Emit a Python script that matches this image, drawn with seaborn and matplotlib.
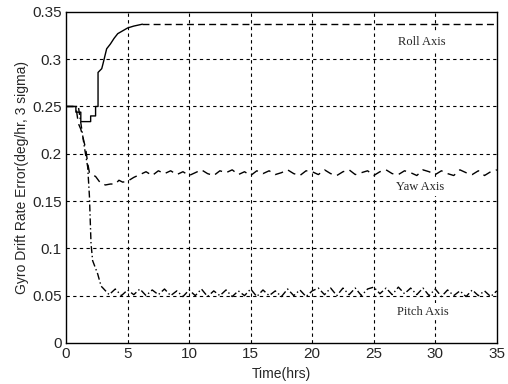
import numpy as np
import pandas as pd
import matplotlib
matplotlib.use("Agg")
import matplotlib.pyplot as plt
import seaborn as sns

# ------------------------- DATI -------------------------

roll_t_early = [0.0, 0.8, 0.8, 1.2, 1.2, 2.0, 2.0, 2.4, 2.4, 2.6, 2.6, 2.9, 3.0, 3.3, 3.6, 3.9, 4.2, 4.6, 5.0, 5.5, 6.2]
roll_early = [0.25, 0.25, 0.244, 0.244, 0.234, 0.234, 0.24, 0.24, 0.25, 0.25, 0.286, 0.29, 0.295, 0.311, 0.316, 0.322, 0.327, 0.330, 0.333, 0.335, 0.337]
roll_t_late = [6.2, 10.0, 15.0, 20.0, 25.0, 30.0, 35.0]
roll_late = [0.337, 0.337, 0.337, 0.337, 0.337, 0.337, 0.337]

yaw_t = [0.0, 0.8, 1.0, 1.2, 1.4, 1.6, 1.76, 1.9, 2.1, 2.4, 2.8, 3.2, 3.6, 4.0, 4.3, 4.6, 5.0, 5.5,
         6.0, 6.5, 7.0, 7.5, 8.0, 8.5, 9.0, 9.5, 10.0, 10.5, 11.0, 11.5, 12.0, 12.5, 13.0, 13.5,
         14.0, 14.5, 15.0, 15.5, 16.0, 16.5, 17.0, 17.5, 18.0, 18.5, 19.0, 19.5, 20.0, 20.5, 21.0,
         21.5, 22.0, 22.5, 23.0, 23.5, 24.0, 24.5, 25.0, 25.5, 26.0, 26.5, 27.0, 27.5, 28.0, 28.5,
         29.0, 29.5, 30.0, 30.5, 31.0, 31.5, 32.0, 32.5, 33.0, 33.5, 34.0, 34.5, 35.0]
yaw = [0.25, 0.25, 0.232, 0.226, 0.216, 0.205, 0.19, 0.18, 0.178, 0.176, 0.169, 0.167, 0.168, 0.168, 0.172, 0.170, 0.171, 0.175,
       0.178, 0.181, 0.177, 0.182, 0.179, 0.182, 0.178, 0.181, 0.177, 0.180, 0.183, 0.179, 0.177, 0.182, 0.180, 0.183,
       0.178, 0.181, 0.177, 0.182, 0.179, 0.182, 0.178, 0.180, 0.183, 0.179, 0.177, 0.182, 0.181, 0.178, 0.183,
       0.179, 0.177, 0.181, 0.183, 0.178, 0.180, 0.182, 0.177, 0.181, 0.183, 0.179, 0.178, 0.182, 0.180, 0.177,
       0.183, 0.181, 0.178, 0.182, 0.179, 0.177, 0.183, 0.180, 0.178, 0.182, 0.177, 0.181, 0.183]

pitch_t = [0.0, 1.0, 1.22, 1.49, 1.76, 1.9, 2.03, 2.16, 2.57, 2.85, 3.0, 3.5, 4.0, 4.5, 5.0, 5.5, 6.0, 6.5,
           7.0, 7.5, 8.0, 8.5, 9.0, 9.5, 10.0, 10.5, 11.0, 11.5, 12.0, 12.5, 13.0, 13.5, 14.0, 14.5,
           15.0, 15.5, 16.0, 16.5, 17.0, 17.5, 18.0, 18.5, 19.0, 19.5, 20.0, 20.5, 21.0, 21.5, 22.0,
           22.5, 23.0, 23.5, 24.0, 24.5, 25.0, 25.5, 26.0, 26.5, 27.0, 27.5, 28.0, 28.5, 29.0, 29.5,
           30.0, 30.5, 31.0, 31.5, 32.0, 32.5, 33.0, 33.5, 34.0, 34.5, 35.0]
pitch = [0.25, 0.25, 0.231, 0.207, 0.186, 0.155, 0.105, 0.087, 0.073, 0.060, 0.058, 0.051, 0.057, 0.050, 0.056, 0.051, 0.057, 0.050,
         0.056, 0.051, 0.057, 0.050, 0.055, 0.049, 0.056, 0.050, 0.057, 0.049, 0.055, 0.050, 0.056, 0.049, 0.055, 0.050,
         0.057, 0.049, 0.056, 0.050, 0.055, 0.049, 0.057, 0.050, 0.056, 0.049, 0.055, 0.058, 0.051, 0.058, 0.050,
         0.058, 0.051, 0.058, 0.050, 0.057, 0.059, 0.052, 0.058, 0.051, 0.059, 0.052, 0.058, 0.051, 0.058, 0.050,
         0.057, 0.049, 0.056, 0.050, 0.055, 0.049, 0.056, 0.050, 0.055, 0.049, 0.055]

labels = ["Roll Axis", "Yaw Axis", "Pitch Axis"]
label_x = [28.9, 28.8, 29.0]
label_y = [0.318, 0.165, 0.033]

# ------------------------- GRAFICO -------------------------

sns.set_style("white")
fig, ax = plt.subplots(figsize=(5.08, 3.84), dpi=100)
fig.subplots_adjust(left=0.13, right=0.978, bottom=0.107, top=0.969)

grid_ls = (0, (3, 3))
for xv in [5, 10, 15, 20, 25, 30]:
    ax.axvline(xv, color="black", lw=0.8, ls=grid_ls, zorder=1)
for yv in [0.05, 0.1, 0.15, 0.2, 0.25, 0.3]:
    ax.axhline(yv, color="black", lw=0.8, ls=grid_ls, zorder=1)

sns.lineplot(x=roll_t_early, y=roll_early, ax=ax, color="black", lw=1.0, sort=False, estimator=None, zorder=3)
sns.lineplot(x=roll_t_late, y=roll_late, ax=ax, color="black", lw=1.0, sort=False, estimator=None,
             linestyle=(0, (5, 3)), zorder=3)
sns.lineplot(x=yaw_t, y=yaw, ax=ax, color="black", lw=1.0, sort=False, estimator=None,
             linestyle=(0, (6, 4)), zorder=3)
sns.lineplot(x=pitch_t, y=pitch, ax=ax, color="black", lw=1.0, sort=False, estimator=None,
             linestyle=(0, (5, 2, 1, 2)), zorder=3)

for lab, lx, ly in zip(labels, label_x, label_y):
    ax.text(lx, ly, lab, family="Liberation Serif", fontsize=9, ha="center", va="center",
            zorder=4, bbox=dict(facecolor="white", edgecolor="none", pad=2))

ax.set_xlim(0, 35)
ax.set_ylim(0, 0.35)
ax.set_xticks([0, 5, 10, 15, 20, 25, 30, 35])
ax.set_yticks([0, 0.05, 0.1, 0.15, 0.2, 0.25, 0.3, 0.35])
ax.set_yticklabels(["0", "0.05", "0.1", "0.15", "0.2", "0.25", "0.3", "0.35"])
ax.tick_params(direction="in", length=3, labelsize=11, pad=3)
for t in ax.get_xticklabels() + ax.get_yticklabels():
    t.set_family("Liberation Sans")
ax.set_xlabel("Time(hrs)", family="Liberation Sans", fontsize=10, labelpad=4)
ax.set_ylabel("Gyro Drift Rate Error(deg/hr, 3 sigma)", family="Liberation Sans", fontsize=10, labelpad=2)
for sp in ax.spines.values():
    sp.set_color("black")
    sp.set_linewidth(1.0)

plt.savefig("out.png", dpi=100)
